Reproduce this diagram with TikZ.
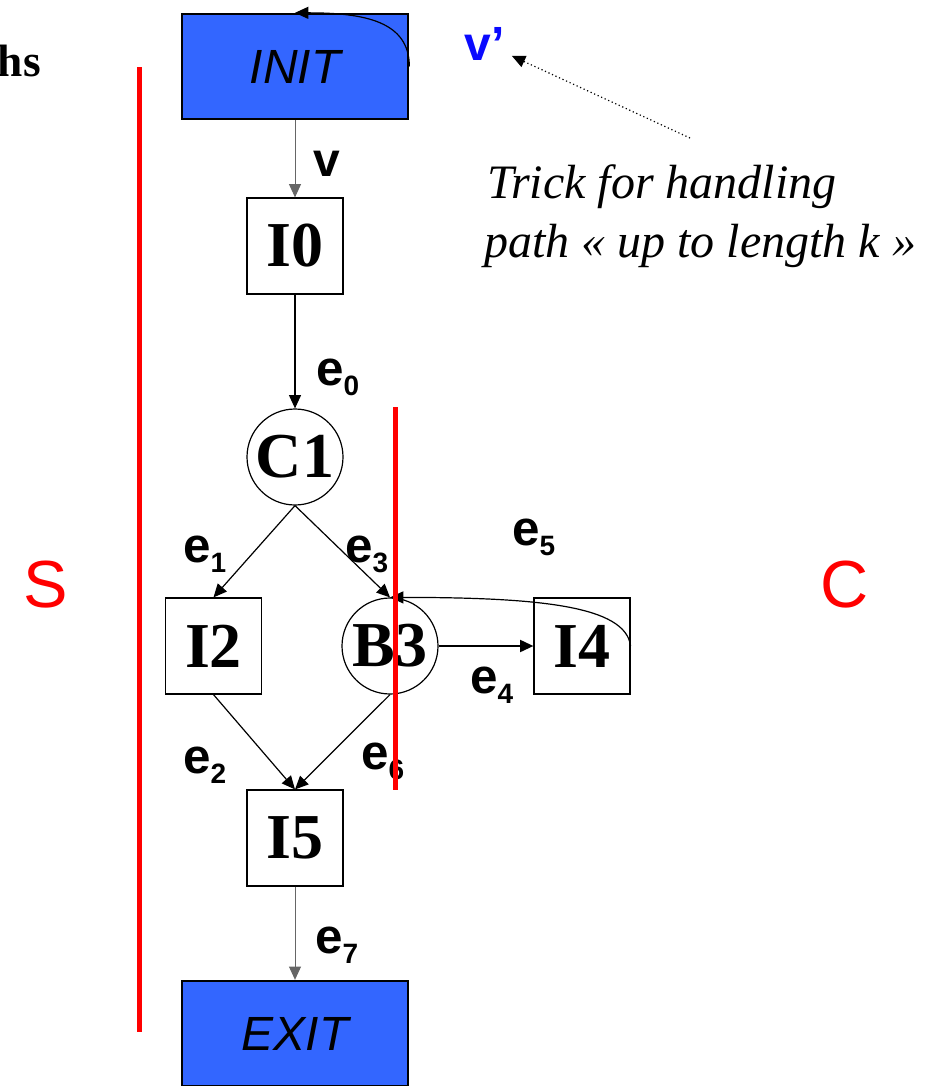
\documentclass[tikz,border=0pt]{standalone}
\usepackage{fontspec}
\setmainfont{Liberation Serif}
\setsansfont{Liberation Sans}
\usetikzlibrary{arrows.meta}
\definecolor{boxblue}{RGB}{51,102,255}
\definecolor{vblue}{RGB}{10,10,255}
\newcommand{\elab}[1]{\sffamily\bfseries e\raisebox{-8pt}{\fontsize{21}{21}\selectfont #1}}

\begin{document}
\begin{tikzpicture}[x=0.75pt,y=-0.75pt,
  >={Triangle[length=10pt,width=9pt]},
  blk/.style={draw=black, line width=1.5pt, fill=boxblue, minimum width=170pt, minimum height=79pt, inner sep=0pt, font=\fontsize{36}{36}\selectfont\sffamily\itshape},
  ibox/.style={draw, line width=0.9pt, minimum size=72pt, inner sep=0pt, font=\fontsize{48}{48}\selectfont\bfseries},
  icirc/.style={draw, circle, line width=0.9pt, minimum size=72pt, inner sep=0pt, font=\fontsize{48}{48}\selectfont\bfseries},
  elabel/.style={anchor=base west, inner sep=0pt, font=\fontsize{37}{37}\selectfont},
  cut/.style={red, line width=3.75pt},
  side/.style={red, font=\fontsize{50}{50}\selectfont\sffamily}]
\useasboundingbox (0,0) rectangle (927,1086);
% title, cut off at the left
\node[anchor=base east, inner sep=0pt, font=\fontsize{34}{34}\selectfont\bfseries] (title) at (41,76) {hs};
% blocks
\node[blk] (init) at (295,66.5) {INIT};
\node[ibox] (i0) at (295,246) {I0};
\node[icirc] (c1) at (295,457) {C1};
\node[ibox] (i2) at (213.5,646) {I2};
\node[icirc] (b3) at (390,646) {B3};
\node[ibox] (i4) at (582,646) {I4};
\node[ibox] (i5) at (295,838) {I5};
\node[blk] (exit) at (295,1033.5) {EXIT};
% edges
\draw[->, black!60, line width=0.75pt] (init) -- (i0);
\draw[->, line width=0.9pt] (i0) -- (c1);
\draw[->, line width=0.9pt] (c1.south) -- (i2.north);
\draw[->, line width=0.9pt] (c1.south) -- (b3.north);
\draw[->, line width=0.9pt] (i2.south) -- (i5.north);
\draw[->, line width=0.9pt] (b3.south) -- (i5.north);
\draw[->, line width=1.5pt] (b3) -- (i4);
\draw[->, line width=0.9pt] (i4.east) .. controls +(-5,-40) and +(150,0) .. (b3.north);
\draw[->, black!60, line width=0.75pt] (i5) -- (exit);
\draw[->, line width=0.9pt] (init.east) .. controls +(0,-45) and +(70,0) .. (init.north);
% edge labels
\node[elabel, font=\fontsize{36}{36}\selectfont\sffamily\bfseries] (v) at (313,176) {v};
\node[elabel] (e0) at (316,385) {\elab{0}};
\node[elabel] (e1) at (183,562) {\elab{1}};
\node[elabel] (e3) at (345,562) {\elab{3}};
\node[elabel] (e5) at (512,545) {\elab{5}};
\node[elabel] (e4) at (470,693) {\elab{4}};
\node[elabel] (e2) at (183,773) {\elab{2}};
\node[elabel] (e6) at (361,769) {\elab{6}};
\node[elabel] (e7) at (315,953) {\elab{7}};
% the trick
\node[anchor=base west, inner sep=5pt, vblue, font=\fontsize{36}{36}\selectfont\sffamily\bfseries] (vp) at (458,60) {v’};
\node[anchor=base west, inner sep=0pt, font=\fontsize{36}{36}\selectfont\itshape] (trick1) at (487,198) {Trick for handling};
\node[anchor=base west, inner sep=0pt, font=\fontsize{36}{36}\selectfont\itshape] (trick2) at (484,257) {path « up to length k »};
\coordinate (tail) at (690,138);
\draw[->, dotted, line width=0.9pt] (tail) -- (vp);
% cuts
\draw[cut] (139,67) -- (139,1032);
\draw[cut] (395,407) -- (395,790);
\node[side] (s) at (46,585) {S};
\node[side] (c) at (845,585) {C};
\end{tikzpicture}
\end{document}
